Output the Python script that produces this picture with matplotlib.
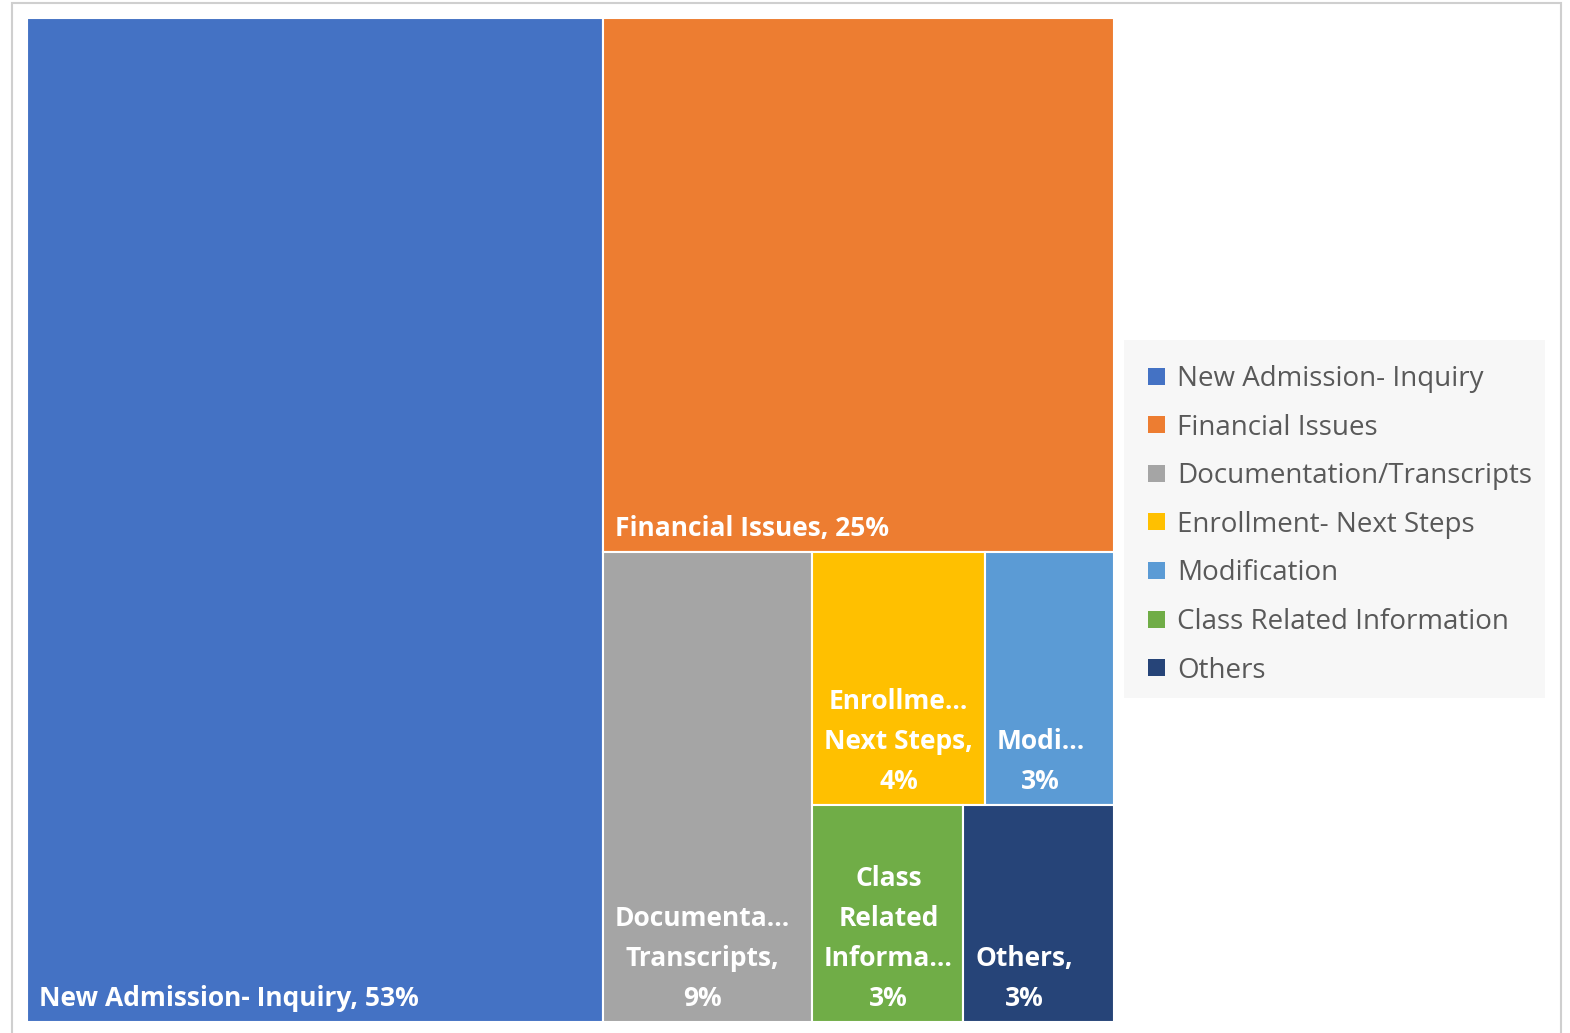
import matplotlib
matplotlib.use('Agg')
import matplotlib.pyplot as plt
from matplotlib.patches import Rectangle

# ticket categories and their share of all contacts (%)
categories = ['New Admission- Inquiry', 'Financial Issues', 'Documentation/Transcripts',
              'Enrollment- Next Steps', 'Modification', 'Class Related Information', 'Others']
shares = [53, 25, 9, 4, 3, 3, 3]
colors = ['#4472C4', '#ED7D31', '#A5A5A5', '#FFC000', '#5B9BD5', '#70AD47', '#264478']

# box captions as they fit inside each tile (text before the percentage)
box_names = ['New Admission- Inquiry, ', 'Financial Issues, ', 'Documenta...\nTranscripts,\n',
             'Enrollme...\nNext Steps,\n', 'Modi...\n', 'Class\nRelated\nInforma...\n', 'Others,\n']

plt.rcParams['font.family'] = ['Open Sans', 'DejaVu Sans']


def split_layout(vals, x, y, w, h, out):
    # balanced binary split along the longer side of the rectangle
    if len(vals) == 1:
        out.append((x, y, w, h))
        return
    total = sum(vals)
    best, best_diff = 1, None
    for k in range(1, len(vals)):
        diff = abs(sum(vals[:k]) - sum(vals[k:]))
        if best_diff is None or diff < best_diff:
            best, best_diff = k, diff
    frac = sum(vals[:best]) / total
    if w >= h:
        split_layout(vals[:best], x, y, w * frac, h, out)
        split_layout(vals[best:], x + w * frac, y, w * (1 - frac), h, out)
    else:
        split_layout(vals[:best], x, y, w, h * frac, out)
        split_layout(vals[best:], x, y + h * frac, w, h * (1 - frac), out)


fig = plt.figure(figsize=(15.7, 10.33), dpi=100)
fig.patches.append(Rectangle((12 / 1570, -0.01), 1549 / 1570, 1.01 - 3 / 1033,
                             transform=fig.transFigure, fill=False,
                             edgecolor='#cfcfcf', linewidth=1.5))

W, H = 1087, 1004
ax = fig.add_axes([27 / 1570, 11 / 1033, W / 1570, H / 1033])
ax.set_xlim(0, W)
ax.set_ylim(H, 0)
ax.axis('off')

rects = []
split_layout(shares, 0, 0, W, H, rects)
for (x, y, w, h), c, name, v in zip(rects, colors, box_names, shares):
    ax.add_patch(Rectangle((x, y), w, h, facecolor=c, edgecolor='white', linewidth=1.5))
    ax.text(x + 12, y + h - 10, f'{name}{v}%', ha='left', va='bottom',
            multialignment='center', color='white', fontsize=19, fontweight='bold',
            linespacing=1.62)

# legend panel
lg = fig.add_axes([1124 / 1570, (1033 - 698) / 1033, 421 / 1570, 358 / 1033])
lg.set_xlim(0, 421)
lg.set_ylim(358, 0)
lg.set_facecolor('#f7f7f7')
lg.set_xticks([])
lg.set_yticks([])
for s in lg.spines.values():
    s.set_visible(False)
for i, (cat, c) in enumerate(zip(categories, colors)):
    yc = 36 + i * 48.6
    lg.add_patch(Rectangle((24, yc - 8.5), 17, 17, facecolor=c, edgecolor='none'))
    lg.text(53, yc + 3, cat, ha='left', va='center', color='#595959', fontsize=20)

fig.savefig('out.png', dpi=100)
